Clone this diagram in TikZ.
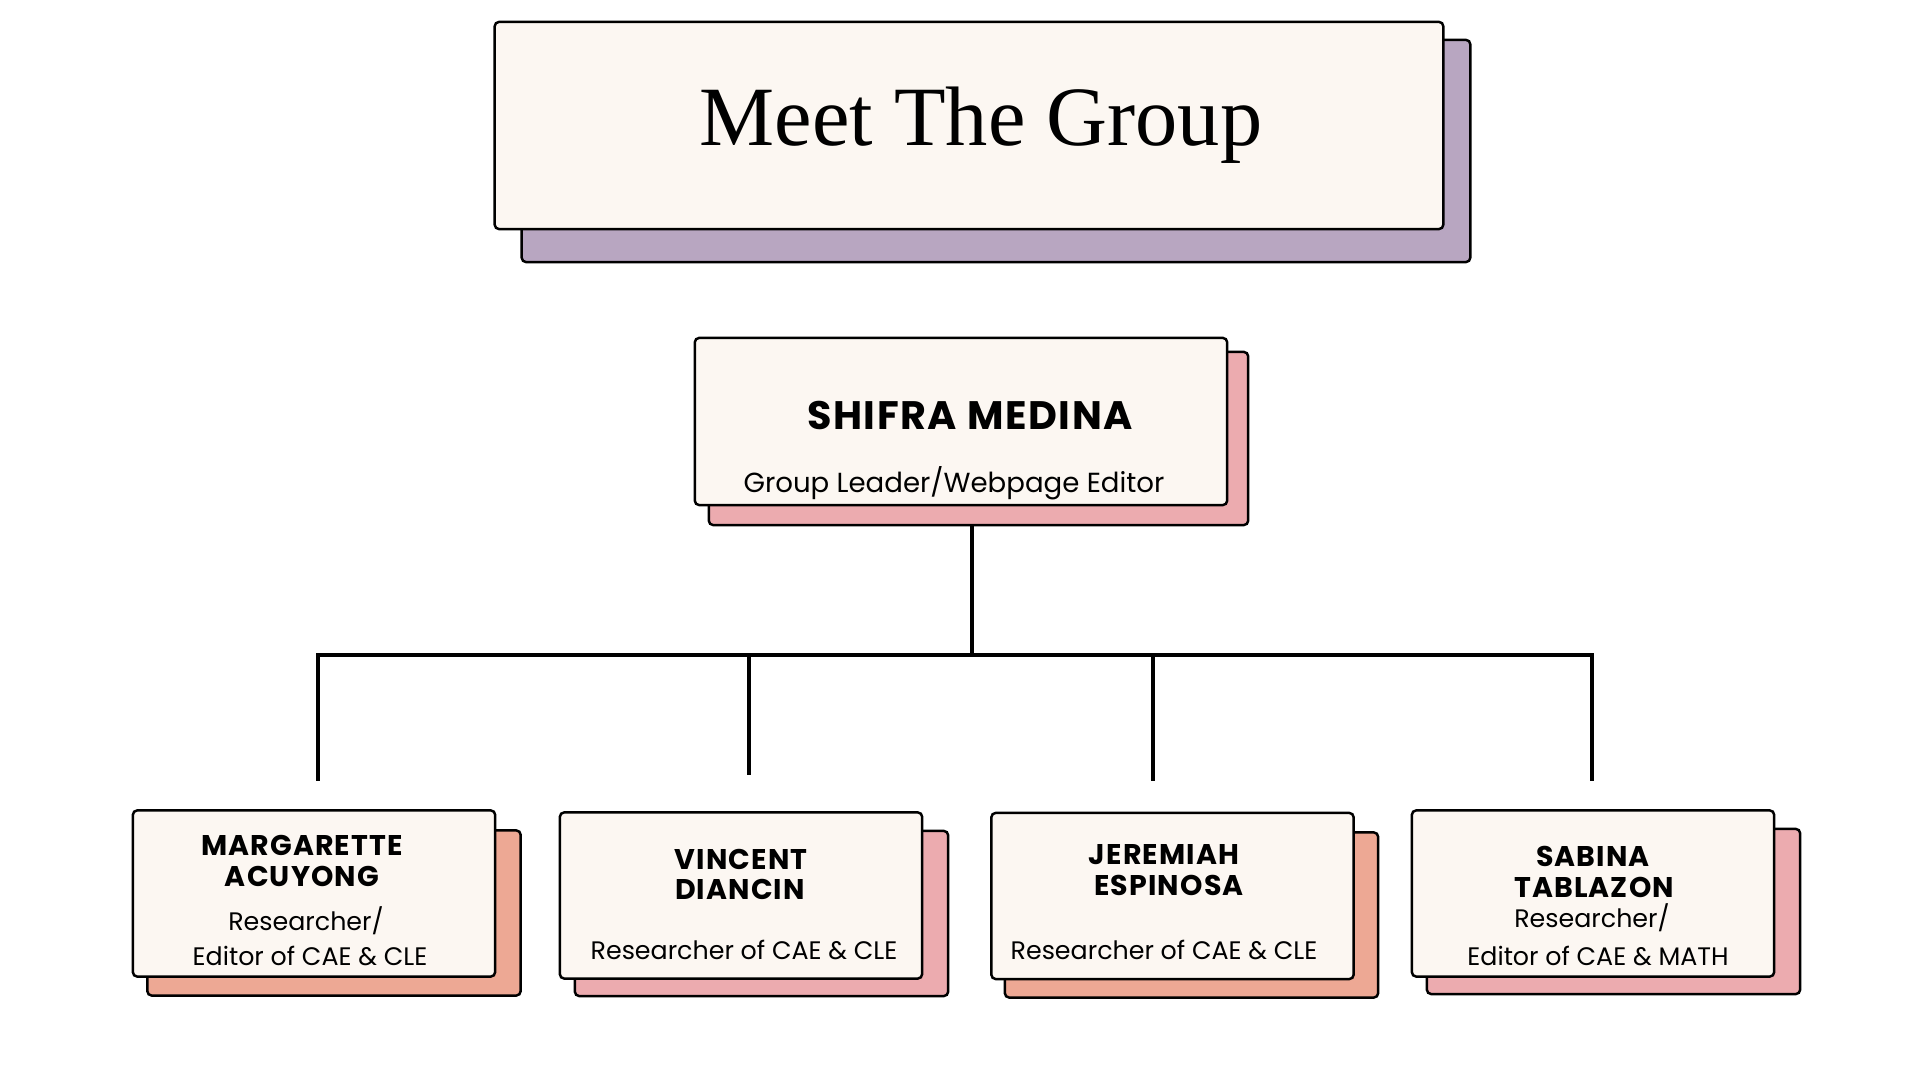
\documentclass[tikz,border=0pt]{standalone}
\usepackage{fontspec}
\setmainfont{Poppins}
\newfontfamily\namefont[LetterSpace=4]{Poppins}
\newfontfamily\titlefont{Liberation Serif}
\definecolor{cream}{HTML}{FCF7F2}
\definecolor{lilac}{HTML}{B8A6C1}
\definecolor{blush}{HTML}{ECABAF}
\definecolor{peach}{HTML}{EDA894}

\begin{document}
\begin{tikzpicture}[x=0.01cm, y=-0.01cm,
  card/.style={draw=black, line width=0.7pt, rounded corners=1.2pt, inner sep=0pt},
  front/.style={card, fill=cream, minimum width=3.62cm, minimum height=1.66cm},
  back/.style={card, minimum width=3.73cm, minimum height=1.65cm},
  who/.style={font=\namefont\bfseries\fontsize{8.1}{9}\selectfont, anchor=base},
  job/.style={font=\fontsize{7.2}{8}\selectfont, anchor=base},
  link/.style={line width=1pt}]
  \useasboundingbox (0,0) rectangle (1920,1080);

  % title
  \node[card, fill=lilac, minimum width=9.48cm, minimum height=2.22cm] (titleback) at (996,151) {};
  \node[card, fill=cream, minimum width=9.48cm, minimum height=2.07cm] (titlebox) at (969,125.5) {};
  \node[font=\titlefont\fontsize{24}{27}\selectfont, anchor=base] (title) at (981,146) {Meet The Group};

  % group leader
  \node[card, fill=blush, minimum width=5.39cm, minimum height=1.73cm] (leadback) at (978.5,438.5) {};
  \node[card, fill=cream, minimum width=5.32cm, minimum height=1.67cm] (lead) at (961,421.5) {};
  \node[who, font=\namefont\bfseries\fontsize{11.3}{13}\selectfont] (leadname) at (970,430) {SHIFRA MEDINA};
  \node[job, font=\fontsize{7.85}{10}\selectfont] (leadjob) at (954,493) {Group Leader/Webpage Editor};

  % members
  \node[back, fill=peach] (back1) at (334,913) {};
  \node[front] (box1) at (314,893.5) {};
  \node[who] (n1a) at (302,856) {MARGARETTE};
  \node[who] (n1b) at (302,887) {ACUYONG};
  \node[job] (j1a) at (306,931) {Researcher/};
  \node[job] (j1b) at (310,966) {Editor of CAE \& CLE};

  \node[back, fill=blush] (back2) at (761.5,913.5) {};
  \node[front] (box2) at (741,895.5) {};
  \node[who] (n2a) at (741,870) {VINCENT};
  \node[who] (n2b) at (740,900) {DIANCIN};
  \node[job] (j2) at (744,960) {Researcher of CAE \& CLE};

  \node[back, fill=peach] (back3) at (1191.5,915) {};
  \node[front] (box3) at (1172.5,896) {};
  \node[who] (n3a) at (1164,865) {JEREMIAH};
  \node[who] (n3b) at (1169,896) {ESPINOSA};
  \node[job] (j3) at (1164,960) {Researcher of CAE \& CLE};

  \node[back, fill=blush] (back4) at (1613.5,911.5) {};
  \node[front] (box4) at (1593,893.5) {};
  \node[who] (n4a) at (1593,867) {SABINA};
  \node[who] (n4b) at (1594,898) {TABLAZON};
  \node[job] (j4a) at (1592,928) {Researcher/};
  \node[job] (j4b) at (1598,966) {Editor of CAE \& MATH};

  % tree lines
  \coordinate (busL) at (316,655);
  \coordinate (busR) at (1594,655);
  \coordinate (stem) at (972,655);
  \coordinate (d1) at (318,781);
  \coordinate (d2) at (749,775);
  \coordinate (d3) at (1153,781);
  \coordinate (d4) at (1592,781);

  \draw[link] (busL) -- (busR);
  \draw[link] (leadback.south -| stem) -- (stem);
  \draw[link] (d1 |- busL) -- (d1);
  \draw[link] (d2 |- busL) -- (d2);
  \draw[link] (d3 |- busL) -- (d3);
  \draw[link] (d4 |- busL) -- (d4);
\end{tikzpicture}
\end{document}
